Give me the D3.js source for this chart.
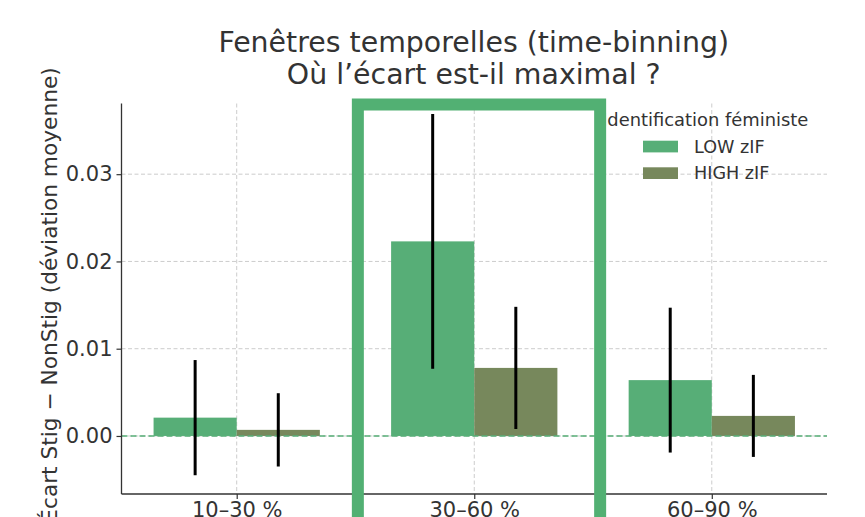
<!DOCTYPE html>
<html>
<head>
<meta charset="utf-8">
<script src="https://cdn.jsdelivr.net/npm/d3@7/dist/d3.min.js"></script>
<style>
  html, body { margin: 0; padding: 0; background: #fff; }
  svg { display: block; font-family: "DejaVu Sans", sans-serif; }
</style>
</head>
<body>
<svg id="chart" width="865" height="517"></svg>
<script>
// ---- data ----
const categories = ["10–30 %", "30–60 %", "60–90 %"];
const seriesNames = ["LOW zIF", "HIGH zIF"];
const lowValues  = [0.0021, 0.0223, 0.0064];
const highValues = [0.0007, 0.0078, 0.0023];
const lowErr     = [0.0066, 0.0146, 0.0083];
const highErr    = [0.0042, 0.0070, 0.0047];
const yTicks     = [0.00, 0.01, 0.02, 0.03];
const highlightIndex = 1;
const titleLines = ["Fenêtres temporelles (time-binning)", "Où l’écart est-il maximal ?"];
const yLabel = "Écart Stig − NonStig (déviation moyenne)";
const legendTitle = "Identification féministe";

// ---- layout ----
const svg = d3.select("#chart");
const pLeft = 121.5, pRight = 827, pTop = 103.5, pBottom = 494;
const textColor = "#333333";
const colors = ["#57ae77", "#77885c"];
const barW = 0.35;

const x = d3.scaleLinear().domain([-0.485, 2.485]).range([pLeft, pRight]);
const y = d3.scaleLinear().domain([-0.00665, 0.0381]).range([pBottom, pTop]);

const series = [
  { name: seriesNames[0], values: lowValues, err: lowErr, offset: -barW / 2, color: colors[0] },
  { name: seriesNames[1], values: highValues, err: highErr, offset: barW / 2, color: colors[1] }
];

// grid
const grid = svg.append("g");
grid.selectAll("line.gy").data(yTicks).join("line")
  .attr("x1", pLeft).attr("x2", pRight)
  .attr("y1", d => y(d)).attr("y2", d => y(d))
  .attr("stroke", "#cccccc").attr("stroke-width", 1).attr("stroke-dasharray", "4,2.5");
grid.selectAll("line.gx").data(categories.map((c, i) => i)).join("line")
  .attr("x1", d => x(d)).attr("x2", d => x(d))
  .attr("y1", pTop).attr("y2", pBottom)
  .attr("stroke", "#cccccc").attr("stroke-width", 1).attr("stroke-dasharray", "4,2.5");

// bars
series.forEach(s => {
  svg.append("g").selectAll("rect").data(s.values).join("rect")
    .attr("x", (d, i) => x(i + s.offset - barW / 2))
    .attr("width", x(barW) - x(0))
    .attr("y", d => Math.min(y(d), y(0)))
    .attr("height", d => Math.abs(y(d) - y(0)))
    .attr("fill", s.color);
});

// zero line
svg.append("line")
  .attr("x1", pLeft).attr("x2", pRight)
  .attr("y1", y(0)).attr("y2", y(0))
  .attr("stroke", "#57ae77").attr("stroke-width", 1.5).attr("stroke-dasharray", "6,3");

// error bars
series.forEach(s => {
  svg.append("g").selectAll("line").data(s.values).join("line")
    .attr("x1", (d, i) => x(i + s.offset)).attr("x2", (d, i) => x(i + s.offset))
    .attr("y1", (d, i) => y(d - s.err[i])).attr("y2", (d, i) => y(d + s.err[i]))
    .attr("stroke", "#000").attr("stroke-width", 3);
});

// axes
const yAxis = svg.append("g").attr("transform", `translate(${pLeft},0)`)
  .call(d3.axisLeft(y).tickValues(yTicks).tickFormat(d3.format(".2f")).tickSize(5).tickPadding(4));
const xAxis = svg.append("g").attr("transform", `translate(0,${pBottom})`)
  .call(d3.axisBottom(x).tickValues(categories.map((c, i) => i)).tickFormat(i => categories[i]).tickSize(5).tickPadding(3));
[yAxis, xAxis].forEach(a => {
  a.select(".domain").attr("stroke", textColor).attr("stroke-width", 1.3);
  a.selectAll(".tick line").attr("stroke", textColor).attr("stroke-width", 1.2);
  a.selectAll(".tick text").attr("fill", textColor).attr("font-size", 21).attr("font-family", "DejaVu Sans");
});
yAxis.select(".domain").attr("d", `M0,${pTop}V${pBottom}`);
xAxis.select(".domain").attr("d", `M${pLeft},0H${pRight}`);

// y label
svg.append("text")
  .attr("transform", `translate(57,295) rotate(-90)`)
  .attr("text-anchor", "middle").attr("fill", textColor).attr("font-size", 21.7)
  .text(yLabel);

// title
svg.append("g").selectAll("text").data(titleLines).join("text")
  .attr("x", (pLeft + pRight) / 2 - 0.5).attr("y", (d, i) => 52 + i * 31.6)
  .attr("text-anchor", "middle").attr("fill", textColor).attr("font-size", 28.4)
  .text(d => d);

// legend
const lg = svg.append("g");
lg.append("text").attr("x", 602).attr("y", 126).attr("text-anchor", "start")
  .attr("fill", textColor).attr("font-size", 17.9).text(legendTitle);
series.forEach((s, i) => {
  const yy = 140.7 + i * 26.6;
  lg.append("rect").attr("x", 643).attr("y", yy).attr("width", 35).attr("height", 11.7).attr("fill", s.color);
  lg.append("text").attr("x", 694).attr("y", yy + 12).attr("fill", textColor).attr("font-size", 17.6).text(s.name);
});

// highlight rectangle
svg.append("rect")
  .attr("x", x(highlightIndex - 0.49)).attr("y", 104.5)
  .attr("width", x(0.53) - x(-0.49)).attr("height", 500)
  .attr("fill", "none").attr("stroke", "#52b073").attr("stroke-width", 12);
</script>
</body>
</html>
